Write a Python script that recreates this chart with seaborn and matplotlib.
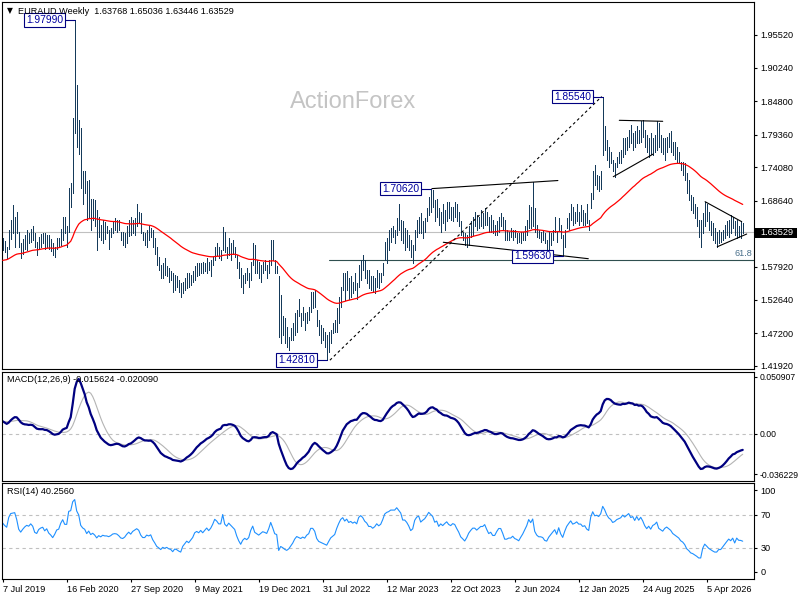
import numpy as np
import pandas as pd
import matplotlib
matplotlib.use("Agg")
import matplotlib.pyplot as plt
from matplotlib.patches import Rectangle
import seaborn as sns

sns.set_theme(style="white")
plt.rcParams['font.family'] = ['Liberation Sans', 'DejaVu Sans']

# ---------------- data (weekly bars) ----------------
high = [
    1.626, 1.622, 1.612, 1.639, 1.655, 1.680, 1.661, 1.669, 1.636, 1.618,
    1.625, 1.631, 1.639, 1.634, 1.640, 1.645, 1.634, 1.620, 1.628, 1.632,
    1.634, 1.634, 1.631, 1.631, 1.625, 1.618, 1.612, 1.626, 1.626, 1.640,
    1.661, 1.661, 1.645, 1.707, 1.715, 1.820, 1.9799, 1.874, 1.817, 1.804,
    1.734, 1.734, 1.718, 1.720, 1.690, 1.689, 1.688, 1.672, 1.661, 1.647,
    1.655, 1.652, 1.645, 1.639, 1.642, 1.653, 1.658, 1.655, 1.655, 1.636,
    1.636, 1.634, 1.645, 1.655, 1.661, 1.655, 1.658, 1.682, 1.669, 1.666,
    1.636, 1.634, 1.639, 1.645, 1.642, 1.639, 1.626, 1.612, 1.596, 1.582,
    1.585, 1.593, 1.580, 1.578, 1.572, 1.569, 1.566, 1.564, 1.558, 1.553,
    1.555, 1.561, 1.569, 1.569, 1.566, 1.572, 1.580, 1.585, 1.585, 1.585,
    1.588, 1.585, 1.593, 1.588, 1.591, 1.596, 1.612, 1.618, 1.612, 1.607,
    1.644, 1.636, 1.612, 1.626, 1.618, 1.623, 1.612, 1.599, 1.588, 1.577,
    1.566, 1.569, 1.577, 1.569, 1.588, 1.618, 1.615, 1.591, 1.588, 1.582,
    1.588, 1.591, 1.582, 1.591, 1.623, 1.623, 1.591, 1.580, 1.564, 1.534,
    1.499, 1.496, 1.482, 1.466, 1.480, 1.488, 1.504, 1.510, 1.528, 1.504,
    1.515, 1.504, 1.507, 1.515, 1.539, 1.539, 1.542, 1.510, 1.493, 1.485,
    1.480, 1.474, 1.469, 1.474, 1.477, 1.488, 1.493, 1.512, 1.531, 1.547,
    1.569, 1.569, 1.572, 1.561, 1.564, 1.555, 1.569, 1.553, 1.582, 1.591,
    1.599, 1.591, 1.574, 1.574, 1.564, 1.564, 1.561, 1.574, 1.569, 1.569,
    1.585, 1.620, 1.626, 1.639, 1.642, 1.645, 1.639, 1.658, 1.682, 1.655,
    1.653, 1.642, 1.639, 1.631, 1.623, 1.615, 1.639, 1.655, 1.661, 1.666,
    1.653, 1.658, 1.674, 1.693, 1.7062, 1.704, 1.688, 1.690, 1.674, 1.669,
    1.682, 1.672, 1.685, 1.685, 1.677, 1.677, 1.685, 1.682, 1.669, 1.653,
    1.636, 1.634, 1.631, 1.645, 1.653, 1.661, 1.669, 1.663, 1.661, 1.672,
    1.666, 1.674, 1.669, 1.661, 1.663, 1.655, 1.647, 1.653, 1.661, 1.666,
    1.661, 1.655, 1.639, 1.636, 1.642, 1.639, 1.639, 1.634, 1.634, 1.636,
    1.636, 1.645, 1.655, 1.680, 1.677, 1.7175, 1.674, 1.647, 1.639, 1.636,
    1.639, 1.634, 1.623, 1.636, 1.634, 1.639, 1.661, 1.636, 1.658, 1.647,
    1.631, 1.639, 1.658, 1.666, 1.682, 1.677, 1.669, 1.682, 1.669, 1.680,
    1.672, 1.666, 1.682, 1.655, 1.699, 1.735, 1.744, 1.728, 1.726, 1.735,
    1.8554, 1.807, 1.785, 1.774, 1.766, 1.753, 1.747, 1.758, 1.766, 1.769,
    1.788, 1.788, 1.790, 1.801, 1.809, 1.796, 1.799, 1.807, 1.801, 1.815,
    1.817, 1.801, 1.793, 1.788, 1.796, 1.788, 1.793, 1.815, 1.812, 1.793,
    1.788, 1.788, 1.790, 1.796, 1.799, 1.782, 1.782, 1.774, 1.766, 1.750,
    1.750, 1.747, 1.731, 1.720, 1.696, 1.693, 1.682, 1.677, 1.655, 1.655,
    1.666, 1.685, 1.682, 1.669, 1.653, 1.650, 1.642, 1.636, 1.639, 1.636,
    1.639, 1.647, 1.653, 1.655, 1.663, 1.661, 1.653, 1.655, 1.645, 1.653, 1.65036,
]
low = [
    1.607, 1.604, 1.593, 1.609, 1.625, 1.634, 1.612, 1.634, 1.612, 1.593,
    1.600, 1.609, 1.607, 1.618, 1.620, 1.623, 1.612, 1.599, 1.609, 1.612,
    1.618, 1.609, 1.612, 1.609, 1.605, 1.599, 1.596, 1.609, 1.612, 1.615,
    1.623, 1.634, 1.612, 1.636, 1.677, 1.699, 1.796, 1.774, 1.763, 1.707,
    1.682, 1.699, 1.655, 1.661, 1.639, 1.655, 1.645, 1.607, 1.628, 1.623,
    1.618, 1.625, 1.634, 1.609, 1.628, 1.634, 1.639, 1.636, 1.639, 1.623,
    1.615, 1.612, 1.618, 1.630, 1.631, 1.634, 1.631, 1.645, 1.650, 1.634,
    1.623, 1.615, 1.612, 1.623, 1.628, 1.612, 1.601, 1.582, 1.574, 1.561,
    1.561, 1.566, 1.564, 1.555, 1.558, 1.539, 1.542, 1.547, 1.539, 1.531,
    1.537, 1.542, 1.545, 1.547, 1.550, 1.555, 1.558, 1.564, 1.566, 1.569,
    1.569, 1.572, 1.569, 1.574, 1.564, 1.582, 1.591, 1.599, 1.593, 1.591,
    1.607, 1.604, 1.593, 1.599, 1.591, 1.601, 1.596, 1.577, 1.561, 1.547,
    1.537, 1.553, 1.558, 1.547, 1.558, 1.582, 1.569, 1.569, 1.561, 1.555,
    1.569, 1.574, 1.561, 1.569, 1.582, 1.591, 1.569, 1.569, 1.466, 1.456,
    1.469, 1.456, 1.450, 1.445, 1.461, 1.461, 1.469, 1.474, 1.499, 1.483,
    1.493, 1.477, 1.488, 1.493, 1.507, 1.512, 1.515, 1.483, 1.469, 1.456,
    1.461, 1.450, 1.4281, 1.442, 1.456, 1.472, 1.474, 1.474, 1.488, 1.515,
    1.542, 1.526, 1.542, 1.528, 1.531, 1.537, 1.542, 1.528, 1.547, 1.558,
    1.574, 1.561, 1.553, 1.545, 1.542, 1.539, 1.537, 1.547, 1.545, 1.555,
    1.566, 1.591, 1.585, 1.607, 1.620, 1.628, 1.618, 1.631, 1.639, 1.623,
    1.618, 1.607, 1.612, 1.607, 1.596, 1.585, 1.607, 1.628, 1.634, 1.634,
    1.626, 1.636, 1.653, 1.663, 1.669, 1.677, 1.653, 1.661, 1.647, 1.636,
    1.650, 1.639, 1.653, 1.658, 1.655, 1.653, 1.661, 1.653, 1.645, 1.631,
    1.623, 1.615, 1.612, 1.615, 1.628, 1.631, 1.645, 1.639, 1.642, 1.645,
    1.642, 1.647, 1.647, 1.636, 1.636, 1.634, 1.631, 1.631, 1.636, 1.645,
    1.639, 1.623, 1.623, 1.623, 1.628, 1.623, 1.628, 1.618, 1.620, 1.618,
    1.623, 1.623, 1.631, 1.642, 1.642, 1.645, 1.636, 1.628, 1.626, 1.620,
    1.623, 1.618, 1.607, 1.601, 1.615, 1.623, 1.636, 1.620, 1.639, 1.626,
    1.5963, 1.612, 1.642, 1.639, 1.655, 1.647, 1.650, 1.653, 1.647, 1.653,
    1.647, 1.647, 1.650, 1.639, 1.674, 1.690, 1.712, 1.705, 1.702, 1.705,
    1.760, 1.769, 1.753, 1.742, 1.747, 1.734, 1.7255, 1.742, 1.747, 1.747,
    1.758, 1.763, 1.769, 1.774, 1.780, 1.769, 1.774, 1.780, 1.780, 1.782,
    1.790, 1.774, 1.766, 1.758, 1.763, 1.761, 1.766, 1.769, 1.774, 1.766,
    1.763, 1.753, 1.766, 1.774, 1.766, 1.761, 1.755, 1.747, 1.747, 1.736,
    1.728, 1.720, 1.699, 1.688, 1.672, 1.666, 1.658, 1.645, 1.628, 1.612,
    1.634, 1.645, 1.653, 1.639, 1.631, 1.623, 1.618, 1.612, 1.618, 1.620,
    1.623, 1.626, 1.631, 1.628, 1.634, 1.642, 1.631, 1.626, 1.628, 1.626, 1.63446,
]
close = [
    1.612, 1.608, 1.605, 1.632, 1.648, 1.650, 1.652, 1.640, 1.618, 1.610,
    1.618, 1.625, 1.630, 1.628, 1.635, 1.630, 1.615, 1.612, 1.622, 1.626,
    1.628, 1.620, 1.625, 1.615, 1.610, 1.603, 1.610, 1.620, 1.622, 1.638,
    1.650, 1.640, 1.640, 1.700, 1.705, 1.815, 1.870, 1.820, 1.800, 1.735,
    1.715, 1.705, 1.670, 1.690, 1.660, 1.670, 1.655, 1.630, 1.645, 1.635,
    1.645, 1.640, 1.640, 1.635, 1.640, 1.648, 1.650, 1.648, 1.640, 1.628,
    1.625, 1.630, 1.640, 1.648, 1.640, 1.650, 1.655, 1.660, 1.655, 1.638,
    1.628, 1.628, 1.635, 1.632, 1.635, 1.618, 1.605, 1.588, 1.580, 1.570,
    1.575, 1.570, 1.572, 1.565, 1.562, 1.550, 1.555, 1.552, 1.545, 1.540,
    1.550, 1.555, 1.560, 1.555, 1.560, 1.565, 1.575, 1.578, 1.575, 1.580,
    1.575, 1.580, 1.585, 1.580, 1.585, 1.594, 1.608, 1.605, 1.600, 1.600,
    1.630, 1.610, 1.605, 1.615, 1.610, 1.605, 1.600, 1.582, 1.565, 1.550,
    1.560, 1.565, 1.560, 1.565, 1.585, 1.600, 1.580, 1.575, 1.570, 1.575,
    1.580, 1.578, 1.575, 1.588, 1.610, 1.595, 1.575, 1.572, 1.475, 1.490,
    1.480, 1.465, 1.455, 1.460, 1.470, 1.480, 1.495, 1.505, 1.500, 1.495,
    1.500, 1.495, 1.505, 1.510, 1.530, 1.530, 1.520, 1.490, 1.475, 1.470,
    1.465, 1.460, 1.455, 1.465, 1.475, 1.480, 1.485, 1.505, 1.525, 1.545,
    1.555, 1.545, 1.555, 1.545, 1.550, 1.545, 1.550, 1.545, 1.575, 1.585,
    1.580, 1.570, 1.565, 1.555, 1.555, 1.550, 1.555, 1.565, 1.560, 1.565,
    1.582, 1.610, 1.620, 1.625, 1.635, 1.635, 1.635, 1.650, 1.645, 1.640,
    1.625, 1.625, 1.620, 1.612, 1.600, 1.605, 1.635, 1.650, 1.655, 1.640,
    1.648, 1.655, 1.670, 1.690, 1.685, 1.680, 1.665, 1.670, 1.655, 1.665,
    1.660, 1.668, 1.675, 1.668, 1.665, 1.672, 1.670, 1.660, 1.650, 1.635,
    1.628, 1.620, 1.628, 1.640, 1.648, 1.655, 1.655, 1.650, 1.655, 1.660,
    1.660, 1.665, 1.655, 1.645, 1.648, 1.640, 1.640, 1.648, 1.655, 1.655,
    1.645, 1.630, 1.630, 1.632, 1.632, 1.635, 1.630, 1.628, 1.625, 1.630,
    1.635, 1.642, 1.650, 1.665, 1.660, 1.670, 1.645, 1.635, 1.630, 1.630,
    1.628, 1.620, 1.618, 1.625, 1.630, 1.635, 1.640, 1.630, 1.645, 1.630,
    1.620, 1.635, 1.650, 1.660, 1.670, 1.662, 1.665, 1.670, 1.665, 1.665,
    1.660, 1.662, 1.655, 1.652, 1.695, 1.725, 1.715, 1.718, 1.715, 1.730,
    1.790, 1.780, 1.765, 1.755, 1.750, 1.740, 1.745, 1.755, 1.760, 1.765,
    1.780, 1.775, 1.785, 1.795, 1.785, 1.790, 1.780, 1.800, 1.790, 1.805,
    1.795, 1.780, 1.770, 1.780, 1.770, 1.785, 1.790, 1.800, 1.780, 1.775,
    1.770, 1.780, 1.785, 1.780, 1.775, 1.765, 1.760, 1.755, 1.750, 1.740,
    1.735, 1.725, 1.705, 1.695, 1.680, 1.675, 1.665, 1.655, 1.640, 1.640,
    1.660, 1.670, 1.660, 1.648, 1.640, 1.632, 1.625, 1.625, 1.630, 1.630,
    1.635, 1.640, 1.645, 1.650, 1.645, 1.650, 1.635, 1.645, 1.638, 1.6377, 1.63529,
]
# weekly closes before the first visible bar (needed to warm up the indicators)
prior_close = [
    1.575, 1.580, 1.572, 1.565, 1.560, 1.555, 1.562, 1.570, 1.575, 1.580,
    1.585, 1.580, 1.575, 1.582, 1.588, 1.585, 1.580, 1.575, 1.578, 1.585,
    1.580, 1.575, 1.582, 1.588, 1.585, 1.578, 1.572, 1.568, 1.575, 1.590,
    1.600, 1.610, 1.612, 1.618, 1.615, 1.622, 1.628, 1.620, 1.618, 1.622,
]

tick_labels = ["7 Jul 2019", "16 Feb 2020", "27 Sep 2020", "9 May 2021",
               "19 Dec 2021", "31 Jul 2022", "12 Mar 2023", "22 Oct 2023",
               "2 Jun 2024", "12 Jan 2025", "24 Aug 2025", "5 Apr 2026"]
tick_step = 32
price_ticks = [1.95520, 1.90240, 1.84800, 1.79360, 1.74080, 1.68640,
               1.57920, 1.52640, 1.47200, 1.41920]
last_price = 1.63529
header = "EURAUD.Weekly  1.63768 1.65036 1.63446 1.63529"
macd_header = "MACD(12,26,9) -0.015624 -0.020090"
rsi_header = "RSI(14) 40.2560"
macd_ticks = [0.050907, 0.0, -0.036229]
macd_tick_labels = ["0.050907", "0.00", "-0.036229"]
rsi_ticks = [100, 70, 30, 0]
rsi_levels = [70, 30]

# labelled extremes: (bar index, price)
price_marks = [(36, 1.97990), (162, 1.42810), (214, 1.70620), (280, 1.59630), (300, 1.85540)]
# drawn trend lines: (bar0, price0, bar1, price1, dashed)
trend_lines = [
    (163.6, 1.4281, 299.5, 1.8554, True),
    (214.6, 1.7062, 277.6, 1.7193, False),
    (220.3, 1.6192, 292.8, 1.5926, False),
    (308.3, 1.8169, 330.0, 1.8153, False),
    (305.3, 1.7255, 325.3, 1.7623, False),
    (351.2, 1.6850, 369.5, 1.6526, False),
    (357.3, 1.6120, 372.0, 1.6326, False),
]
fib_start, fib_level, fib_text = 163.3, 1.5913, "61.8"

# ---------------- indicators ----------------
n = len(close)
k = len(prior_close)
full = pd.Series(prior_close + close, dtype=float)
ma = full.ewm(span=55, adjust=False).mean()
macd_line = full.ewm(span=12, adjust=False).mean() - full.ewm(span=26, adjust=False).mean()
signal_line = macd_line.rolling(9).mean()
delta = full.diff()
gain = delta.clip(lower=0).ewm(alpha=1 / 14, adjust=False).mean()
loss = (-delta.clip(upper=0)).ewm(alpha=1 / 14, adjust=False).mean()
rsi = 100 - 100 / (1 + gain / loss)

df = pd.DataFrame({
    "bar": np.arange(n),
    "high": high, "low": low, "close": close,
    "ma": ma.iloc[k:].to_numpy(),
    "macd": macd_line.iloc[k:].to_numpy(),
    "signal": signal_line.iloc[k:].to_numpy(),
    "rsi": rsi.iloc[k:].to_numpy(),
})

# ---------------- figure ----------------
W, H = 800, 600
fig = plt.figure(figsize=(8, 6), dpi=100)
fig.patch.set_facecolor("white")


def px_axes(x0, y0, x1, y1):
    return fig.add_axes([x0 / W, 1 - y1 / H, (x1 - x0) / W, (y1 - y0) / H])


ax_p = px_axes(2, 2, 754, 369)
ax_m = px_axes(2, 372, 754, 481)
ax_r = px_axes(2, 483, 754, 579)
XL = (-0.35, 375.65)
FS = 6.6

for ax in (ax_p, ax_m, ax_r):
    ax.set_facecolor("white")
    for s in ax.spines.values():
        s.set_color("black")
        s.set_linewidth(0.8)
    ax.set_xlim(*XL)
    ax.tick_params(axis="y", left=False, right=True, labelleft=False, labelright=True,
                   length=2.5, width=0.8, pad=2, labelsize=FS, colors="black", direction="out")
    ax.tick_params(axis="x", bottom=False, labelbottom=False)

# price panel
ax_p.axhline(last_price, color="#c0c0c0", lw=0.8, zorder=1)
ax_p.plot([fib_start, XL[1]], [fib_level, fib_level], color="#2f4f4f", lw=0.8, zorder=1)
ax_p.vlines(df["bar"], df["low"], df["high"], colors="#153a5a", linewidth=0.72,
            antialiased=False, zorder=3)
sns.lineplot(data=df, x="bar", y="ma", ax=ax_p, color="#ff0000", linewidth=0.9, zorder=4)
for b0, p0, b1, p1, dashed in trend_lines:
    ax_p.plot([b0, b1], [p0, p1], color="black", lw=0.8, zorder=5,
              dashes=(2.5, 2.5) if dashed else (None, None))
for b, p in price_marks:
    ax_p.plot([b - 5, b], [p, p], color="#000080", lw=0.8, zorder=5)
    ax_p.text(b - 5.9, p, f"{p:.5f}", ha="right", va="center", fontsize=7.4, color="#0000a0",
              zorder=6, bbox=dict(boxstyle="square,pad=0.18", fc="white", ec="#000080", lw=0.8))
ax_p.set_ylim(1.41383, 2.00866)
ax_p.set_yticks(price_ticks)
ax_p.set_yticklabels([f"{v:.5f}" for v in price_ticks])
ax_p.set_xlabel("")
ax_p.set_ylabel("")

# MACD panel
ax_m.axhline(0, color="#c0c0c0", lw=0.8, dashes=(3, 3))
sns.lineplot(data=df, x="bar", y="signal", ax=ax_m, color="#b4b4b4", linewidth=0.8)
sns.lineplot(data=df, x="bar", y="macd", ax=ax_m, color="#000080", linewidth=1.6)
ax_m.set_ylim(-0.042517, 0.055398)
ax_m.set_yticks(macd_ticks)
ax_m.set_yticklabels(macd_tick_labels)
ax_m.tick_params(axis="y", labelsize=6.2, pad=1.5)
ax_m.set_xlabel("")
ax_m.set_ylabel("")

# RSI panel
for lv in rsi_levels:
    ax_r.axhline(lv, color="#c0c0c0", lw=0.8, dashes=(3, 3))
sns.lineplot(data=df, x="bar", y="rsi", ax=ax_r, color="#1e90ff", linewidth=0.8)
ax_r.set_ylim(-8.58, 109.07)
ax_r.set_yticks(rsi_ticks)
ax_r.set_yticklabels([str(v) for v in rsi_ticks])
ax_r.set_xticks([i * tick_step for i in range(len(tick_labels))])
ax_r.set_xticklabels(tick_labels, ha="left")
ax_r.tick_params(axis="x", bottom=True, labelbottom=True, length=2.5, width=0.8, pad=2,
                 labelsize=FS, colors="black", direction="out")
ax_r.set_xlim(*XL)
ax_r.set_xlabel("")
ax_r.set_ylabel("")

# texts
fig.text(6.5 / W, 1 - 11 / H, "\u25BC", fontsize=5.5, va="center", ha="left",
         family=["DejaVu Sans"], color="black")
fig.text(18.3 / W, 1 - 11 / H, header, fontsize=FS, va="center", ha="left", color="black")
fig.text(7.3 / W, 1 - 380 / H, macd_header, fontsize=FS, va="center", ha="left", color="black")
fig.text(7.3 / W, 1 - 491.5 / H, rsi_header, fontsize=FS, va="center", ha="left", color="black")
fig.text(290 / W, 1 - 102 / H, "ActionForex", fontsize=17, color="#c4c4c4",
         va="center", ha="left")
fig.text(752.5 / W, 1 - 257.5 / H, fib_text, fontsize=FS, color="#4a708b", ha="right", va="bottom")

# current price tag
fig.patches.append(Rectangle((755 / W, 1 - 238 / H), 42 / W, 10.5 / H, transform=fig.transFigure,
                             facecolor="black", edgecolor="black", lw=0))
fig.text(760.5 / W, 1 - 232.8 / H, f"{last_price:.5f}", fontsize=FS, color="white",
         va="center", ha="left")

fig.savefig("out.png", dpi=100, facecolor="white")
